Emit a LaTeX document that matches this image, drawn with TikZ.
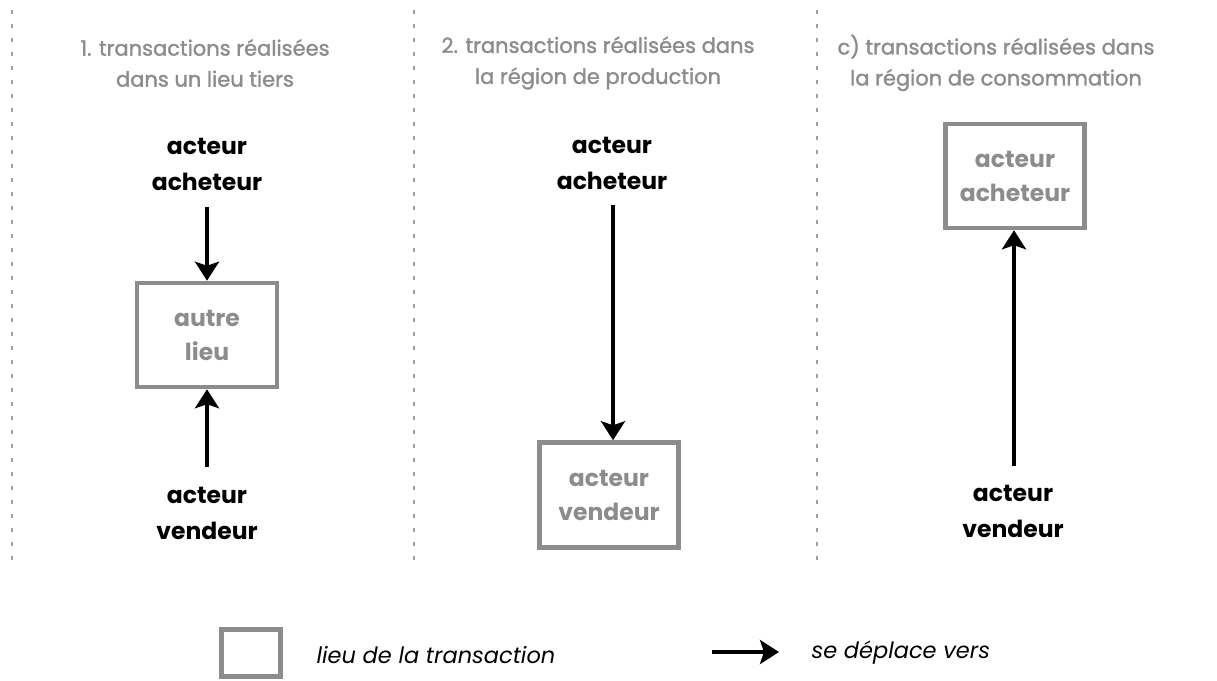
\documentclass[tikz,border=0pt]{standalone}
\usepackage{fontspec}
\setmainfont{Poppins}
\newfontfamily\titlefont[FakeBold=1.5]{Poppins}
\usetikzlibrary{arrows.meta}
\definecolor{gr}{HTML}{8C8C8C}
\definecolor{dotgr}{HTML}{A0A0A0}
\tikzset{
  sep/.style={dotgr, line width=2, dash pattern=on 4 off 10},
  title/.style={gr, font=\titlefont\fontsize{21}{31}\selectfont, align=center},
  actor/.style={black, font=\bfseries\fontsize{23.5}{36}\selectfont, align=center},
  place/.style={draw=gr, line width=4.5, gr, font=\bfseries\fontsize{23.5}{34}\selectfont, align=center, inner sep=0pt},
  move/.style={line width=4, -{Stealth[length=19, width=24, inset=4]}},
  legend/.style={font=\itshape\fontsize{22.5}{26}\selectfont, anchor=west}
}
\begin{document}
\begin{tikzpicture}[x=1pt, y=-1pt]
\useasboundingbox (0,0) rectangle (1217,680);
% separators
\draw[sep] (12,10) -- (12,560);
\draw[sep] (414,10) -- (414,560);
\draw[sep] (817,10) -- (817,560);
% titles
\node[title] (t1) at (205,63) {1. transactions réalisées\\dans un lieu tiers};
\node[title] (t2) at (598,63) {2. transactions réalisées dans\\la région de production};
\node[title] (t3) at (996,63) {c) transactions réalisées dans\\la région de consommation};
% column 1
\node[actor] (a1) at (207,164) {acteur\\acheteur};
\node[place, minimum width=140, minimum height=104] (p1) at (207,335) {autre\\lieu};
\node[actor] (v1) at (207,513) {acteur\\vendeur};
\draw[move] (a1.south |- 0,207) -- (p1.north);
\draw[move] (p1.south |- 0,467) -- (p1.south);
% column 2
\node[actor] (a2) at (612,163) {acteur\\acheteur};
\node[place, minimum width=139, minimum height=105] (p2) at (609,495) {acteur\\vendeur};
\draw[move] (613,205) -- (p2.north -| 613,0);
% column 3
\node[place, minimum width=139, minimum height=104] (p3) at (1015,176) {acteur\\acheteur};
\node[actor] (v3) at (1013,511) {acteur\\vendeur};
\draw[move] (1014,466) -- (p3.south -| 1014,0);
% legend
\node[draw=gr, line width=4.5, minimum width=59, minimum height=47, inner sep=0pt] (lb) at (251,653) {};
\node[legend] (lt) at (313,655) {lieu de la transaction};
\coordinate (la0) at (712,652);
\coordinate (la1) at (779,652);
\draw[move] (la0) -- (la1);
\node[legend] (lm) at (808,653) {se déplace vers};
\end{tikzpicture}
\end{document}
